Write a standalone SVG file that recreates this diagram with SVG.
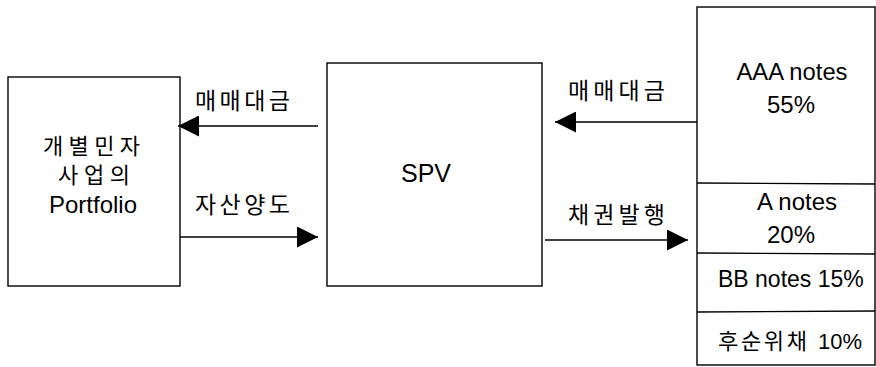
<svg xmlns="http://www.w3.org/2000/svg" width="876" height="367" viewBox="0 0 876 367">
<style>
.box{fill:#fff;stroke:#000;stroke-width:1.4}
.ln{stroke:#000;stroke-width:1.4;fill:none}
.t{font-family:"Liberation Sans","Noto Sans CJK KR",sans-serif;font-size:24px;fill:#000;text-anchor:middle}
.k{font-family:"Noto Sans CJK KR","Liberation Sans",sans-serif;font-size:23px;fill:#000}
</style>
<defs>
<marker id="ah" viewBox="0 0 20 20" refX="20" refY="10" markerWidth="21" markerHeight="21" markerUnits="userSpaceOnUse" orient="auto">
<path d="M0,0 L20,10 L0,20 Z" fill="#000"/>
</marker>
</defs>
<g id="portfolio">
<rect class="box" x="8" y="77" width="172" height="209"/>
<text class="k" x="43" y="154" style="font-size:22px" textLength="97" lengthAdjust="spacing">개별민자</text>
<text class="k" x="58" y="183" style="font-size:22px" textLength="72" lengthAdjust="spacing">사업의</text>
<text class="t" x="93" y="213">Portfolio</text>
</g>
<g id="spv">
<rect class="box" x="327" y="63" width="215" height="223"/>
<text class="t" x="426" y="182" style="font-size:25px">SPV</text>
</g>
<g id="notes">
<rect class="box" x="697" y="7" width="178" height="358"/>
<line class="ln" x1="697" y1="183" x2="875" y2="184"/>
<line class="ln" x1="697" y1="253" x2="875" y2="254"/>
<line class="ln" x1="697" y1="312" x2="875" y2="311"/>
<text class="t" x="792" y="80" textLength="111" lengthAdjust="spacingAndGlyphs">AAA notes</text>
<text class="t" x="791" y="113">55%</text>
<text class="t" x="797" y="210">A notes</text>
<text class="t" x="791" y="243">20%</text>
<text class="t" x="718" y="287" style="font-size:23px;text-anchor:start">BB notes 15%</text>
<text class="k" x="718" y="349" style="font-size:22px"><tspan textLength="89" lengthAdjust="spacing">후순위채</tspan><tspan x="818" style="font-family:'Liberation Sans',sans-serif">10%</tspan></text>
</g>
<g id="connectors">
<line class="ln" x1="318" y1="126" x2="178" y2="126" marker-end="url(#ah)"/>
<line class="ln" x1="180" y1="237" x2="318" y2="237" marker-end="url(#ah)"/>
<line class="ln" x1="697" y1="122" x2="555" y2="122" marker-end="url(#ah)"/>
<line class="ln" x1="545" y1="240" x2="688" y2="240" marker-end="url(#ah)"/>
<text class="k" x="195" y="109" textLength="95" lengthAdjust="spacing">매매대금</text>
<text class="k" x="195" y="213" textLength="95" lengthAdjust="spacing">자산양도</text>
<text class="k" x="568" y="99" textLength="97" lengthAdjust="spacing">매매대금</text>
<text class="k" x="568" y="223" textLength="97" lengthAdjust="spacing">채권발행</text>
</g>
</svg>
